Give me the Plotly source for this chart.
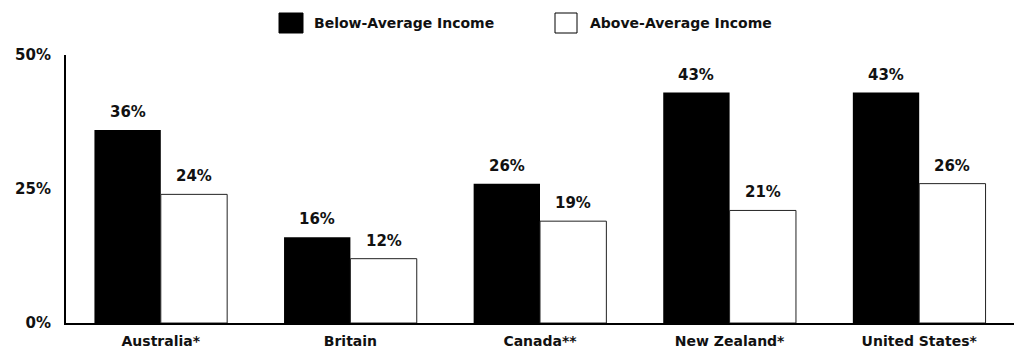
import plotly.graph_objects as go

# Share of respondents by income group, per country
countries = ["Australia*", "Britain", "Canada**", "New Zealand*", "United States*"]
below_avg = [36, 16, 26, 43, 43]
above_avg = [24, 12, 19, 21, 26]
series_names = ["Below-Average Income", "Above-Average Income"]
y_ticks = [0, 25, 50]
y_tick_labels = ["0%", "25%", "50%"]

W, H = 1014, 353
L, R, T, B = 66, 0, 55, 30
BARGAP = 0.3
FONT = dict(family="DejaVu Sans", size=14, color="#111111", weight="bold")

fig = go.Figure()
fig.add_trace(go.Bar(
    x=countries, y=below_avg, name=series_names[0],
    marker=dict(color="#000000", line=dict(width=0)),
))
fig.add_trace(go.Bar(
    x=countries, y=above_avg, name=series_names[1],
    marker=dict(color="#ffffff", line=dict(color="#222222", width=1)),
))

# value labels above each bar, offset to the bar's slot within the group
half = (1 - BARGAP) / 4
annotations = []
for i in range(len(countries)):
    for vals, off in ((below_avg, -half), (above_avg, half)):
        annotations.append(dict(
            x=i + off, y=vals[i], xref="x", yref="y",
            text=f"{vals[i]}%", showarrow=False,
            yanchor="bottom", yshift=7,
            font=dict(FONT, size=15),
        ))

# legend drawn as swatches plus labels above the plot
plot_w = W - L - R
plot_h = H - T - B


def px_x(px):
    return (px - L) / plot_w


def px_y(py):
    return (H - B - py) / plot_h


shapes = []
for (x0, x1), fill, name, tx in (((279, 303), "#000000", series_names[0], 312),
                                  ((555, 577), "#ffffff", series_names[1], 588)):
    shapes.append(dict(
        type="rect", xref="paper", yref="paper",
        x0=px_x(x0), x1=px_x(x1), y0=px_y(33), y1=px_y(13),
        fillcolor=fill, line=dict(color="#000000", width=1),
    ))
    annotations.append(dict(
        x=px_x(tx), y=px_y(23), xref="paper", yref="paper",
        text=name, showarrow=False, xanchor="left", yanchor="middle",
        font=dict(FONT, size=14),
    ))

fig.update_layout(
    width=W, height=H,
    margin=dict(l=L, r=R, t=T, b=B, pad=0),
    paper_bgcolor="#ffffff", plot_bgcolor="#ffffff",
    barmode="group", bargap=BARGAP, bargroupgap=0,
    showlegend=False,
    font=FONT,
    annotations=annotations,
    shapes=shapes,
    xaxis=dict(
        type="category", range=[-0.5, len(countries) - 0.5],
        showline=True, linecolor="#000000", linewidth=2,
        showgrid=False, ticks="", tickfont=dict(FONT, size=14),
        zeroline=False, ticklabelstandoff=4,
    ),
    yaxis=dict(
        range=[0, 50], tickvals=y_ticks, ticktext=y_tick_labels,
        showline=True, linecolor="#000000", linewidth=2,
        showgrid=False, zeroline=False, ticks="",
        ticklabelstandoff=10, tickfont=dict(FONT, size=15),
    ),
)

fig.write_html("out.html")
